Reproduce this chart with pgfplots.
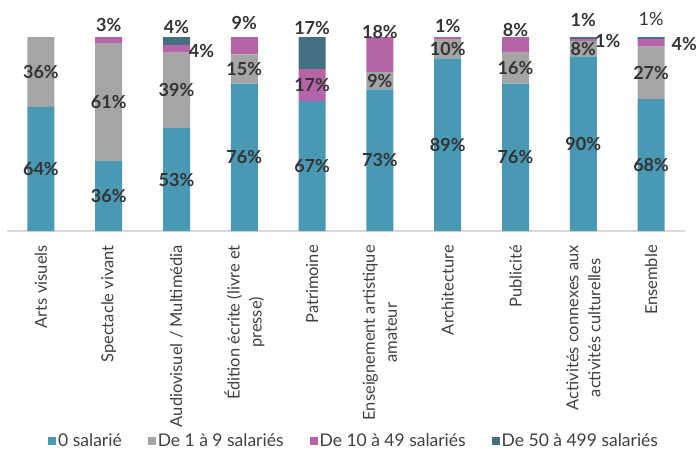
\documentclass[border=0pt]{standalone}
\usepackage{fontspec}
\setmainfont{Lato}
\usepackage{pgfplots}
\pgfplotsset{compat=1.18}
\definecolor{c0}{HTML}{4A99B4}
\definecolor{c1}{HTML}{A5A5A5}
\definecolor{c2}{HTML}{B664A8}
\definecolor{c3}{HTML}{436F80}
\definecolor{txt}{HTML}{333333}
\definecolor{tick}{HTML}{404040}
\tikzset{lab/.style={font=\fontsize{18}{18}\selectfont\bfseries, text=txt}}
\newcommand{\barlabels}{%
\node[lab] at (axis cs:0,32) {64\%};
\node[lab] at (axis cs:0,82) {36\%};
\node[lab] at (axis cs:1,18) {36\%};
\node[lab] at (axis cs:1,66.5) {61\%};
\node[lab] at (axis cs:1,106) {3\%};
\node[lab] at (axis cs:2,26.5) {53\%};
\node[lab] at (axis cs:2,72.5) {39\%};
\node[lab] at (axis cs:2.37,92.6) {4\%};
\node[lab] at (axis cs:2,105) {4\%};
\node[lab] at (axis cs:3,38) {76\%};
\node[lab] at (axis cs:3,83.5) {15\%};
\node[lab] at (axis cs:3,107) {9\%};
\node[lab] at (axis cs:4,33.5) {67\%};
\node[lab] at (axis cs:4,75) {17\%};
\node[lab] at (axis cs:4,104.5) {17\%};
\node[lab] at (axis cs:5,36.5) {73\%};
\node[lab] at (axis cs:5,77.5) {9\%};
\node[lab] at (axis cs:5,102.4) {18\%};
\node[lab] at (axis cs:6,44.5) {89\%};
\node[lab] at (axis cs:6,94) {10\%};
\node[lab] at (axis cs:6,105.5) {1\%};
\node[lab] at (axis cs:7,38) {76\%};
\node[lab] at (axis cs:7,84) {16\%};
\node[lab] at (axis cs:7,103.5) {8\%};
\node[lab] at (axis cs:8,45) {90\%};
\node[lab] at (axis cs:8,94) {8\%};
\node[lab] at (axis cs:8.36,97.8) {1\%};
\node[lab] at (axis cs:8,108.6) {1\%};
\node[lab] at (axis cs:9,34) {68\%};
\node[lab] at (axis cs:9,81.5) {27\%};
\node[lab] at (axis cs:9.49,96.2) {4\%};
\node[font=\fontsize{18}{18}\selectfont, text=txt] at (axis cs:9,109) {1\%};
}
\begin{document}
\begin{tikzpicture}
\path[use as bounding box] (-7pt,-219pt) rectangle (691pt,231pt);
\begin{axis}[
 at={(0pt,0pt)}, anchor=south west,
 scale only axis, width=678pt, height=194pt,
 ybar stacked, bar width=27pt,
 xmin=-0.5, xmax=9.5, ymin=0, ymax=100,
 axis x line*=bottom, axis y line=none,
 axis line style={draw=black!15, line width=1.5pt},
 xtick={0,...,9}, xtick style={draw=none},
 xticklabels={Arts visuels, Spectacle vivant, Audiovisuel / Multimédia, Édition écrite (livre et\\presse), Patrimoine, Enseignement artistique\\amateur, Architecture, Publicité, Activités connexes aux\\activités culturelles, Ensemble},
 xticklabel style={rotate=90, anchor=east, inner sep=0pt, align=center, font=\fontsize{16.5}{22}\selectfont, text=tick},
 xticklabel shift=14pt,
 clip=false,
 legend columns=4,
 legend style={at={(0.512,-1.082)}, anchor=center, draw=none, fill=none, font=\fontsize{17.5}{20}\selectfont, text=tick, /tikz/every even column/.append style={column sep=24pt}},
 legend image code/.code={\fill[#1] (0pt,-4pt) rectangle (8pt,4pt);},
 after end axis/.code={\barlabels},
]
\addplot[fill=c0, draw=none] coordinates {(0,64)(1,36)(2,53)(3,76)(4,67)(5,73)(6,89)(7,76)(8,90)(9,68)};
\addplot[fill=c1, draw=none] coordinates {(0,36)(1,61)(2,39)(3,15)(4,0)(5,9)(6,10)(7,16)(8,8)(9,27)};
\addplot[fill=c2, draw=none] coordinates {(0,0)(1,3)(2,4)(3,9)(4,16.5)(5,18)(6,1)(7,8)(8,1)(9,4)};
\addplot[fill=c3, draw=none] coordinates {(0,0)(1,0)(2,4)(3,0)(4,16.5)(5,0)(6,0)(7,0)(8,1)(9,1)};
\legend{0 salarié, De 1 à 9 salariés, De 10 à 49 salariés, De 50 à 499 salariés}
\end{axis}
\end{tikzpicture}
\end{document}
